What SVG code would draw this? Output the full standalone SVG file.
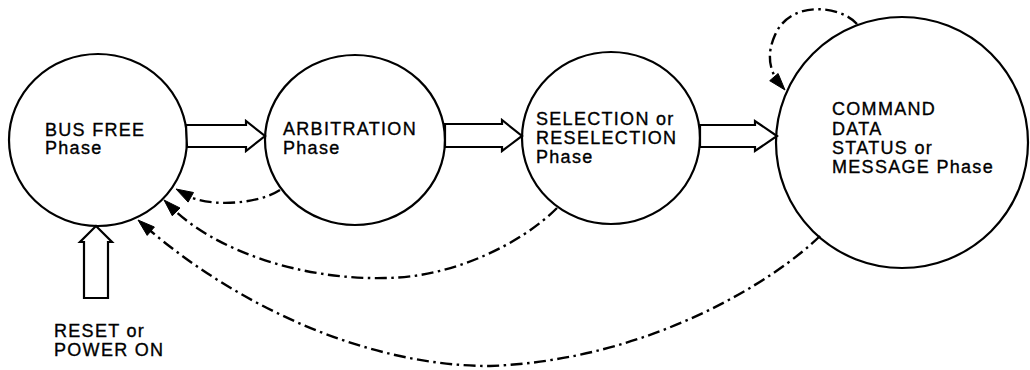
<svg xmlns="http://www.w3.org/2000/svg" width="1030" height="370" viewBox="0 0 1030 370">
<style>
.node{fill:#fff;stroke:#000;stroke-width:2.2}
.big{fill:#fff;stroke:#000;stroke-width:2.2;stroke-linejoin:miter}
.lbl{font-family:"Liberation Sans",Arial,sans-serif;font-size:18px;letter-spacing:1.3px;fill:#000;stroke:#000;stroke-width:0.35}
.dash{fill:none;stroke:#000;stroke-width:2.4;stroke-dasharray:12 4.5 2.5 4.5}
.head{fill:#000;stroke:#000;stroke-width:1;stroke-linejoin:miter}
</style>
<rect width="1030" height="370" fill="#fff"/>
<g id="busfree">
<ellipse class="node" cx="98" cy="140" rx="89" ry="86"/>
<text class="lbl" x="45" y="136">BUS FREE</text>
<text class="lbl" x="45" y="154">Phase</text>
</g>
<g id="arbitration">
<ellipse class="node" cx="355" cy="140" rx="90" ry="85"/>
<text class="lbl" x="283" y="135">ARBITRATION</text>
<text class="lbl" x="283" y="154">Phase</text>
</g>
<g id="selection">
<ellipse class="node" cx="611" cy="138" rx="89" ry="86"/>
<text class="lbl" x="536" y="125">SELECTION or</text>
<text class="lbl" x="536" y="144">RESELECTION</text>
<text class="lbl" x="536" y="163">Phase</text>
</g>
<g id="command">
<ellipse class="node" cx="902" cy="142.5" rx="126" ry="125.5"/>
<text class="lbl" x="832" y="115">COMMAND</text>
<text class="lbl" x="832" y="135">DATA</text>
<text class="lbl" x="832" y="154">STATUS or</text>
<text class="lbl" x="832" y="173">MESSAGE Phase</text>
</g>
<g id="reset">
<text class="lbl" x="54" y="337">RESET or</text>
<text class="lbl" x="54" y="356">POWER ON</text>
</g>
<g id="connectors">
<polygon class="big" points="186,125 246,125 246,121 265,136 246,151 246,147 187,147"/>
<polygon class="big" points="445,124 502,124 502,120 522,136 502,151 502,147 445,147"/>
<polygon class="big" points="700,125 755,125 755,121 777,136 755,151 755,147 700,147"/>
<polygon class="big" points="84,298 84,242 80,242 96,226 112,242 108,242 108,298"/>
<path class="dash" d="M280,190 C258,204 210,208 186,195"/>
<polygon class="head" points="176,189 193.5,192.5 188.1,202.1"/>
<path class="dash" d="M557,208 C520,245 450,278 385,278 C300,280 215,250 172,208"/>
<polygon class="head" points="164,200 180,208 172.3,215.8"/>
<path class="dash" d="M820,236 C775,280 650,360 490,366 C360,366 230,300 146,227"/>
<polygon class="head" points="138,220 154.4,227 147.2,235.4"/>
<path class="dash" d="M857,24 C840,5 790,0 775,35 C766,55 770,70 778,82"/>
<polygon class="head" points="785,90 769.7,80.7 778.1,73.5"/>
</g>
</svg>
